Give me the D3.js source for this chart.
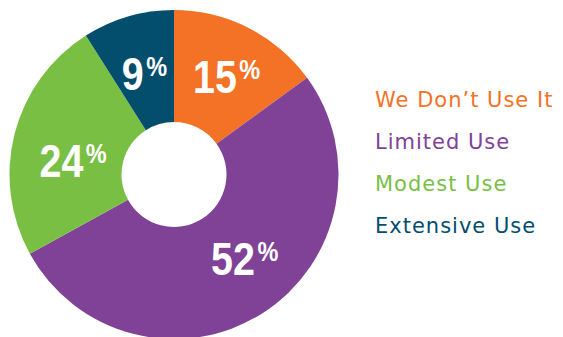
<!DOCTYPE html>
<html>
<head>
<meta charset="utf-8">
<script src="https://cdn.jsdelivr.net/npm/d3@7"></script>
<style>
  html, body { margin: 0; padding: 0; background: #ffffff; }
  svg { display: block; }
</style>
</head>
<body>
<svg id="chart" width="563" height="337"></svg>
<script>
// Survey responses: how much each group uses the tool
const categories = ["We Don\u2019t Use It", "Limited Use", "Modest Use", "Extensive Use"];
const shares = [15, 52, 24, 9];
const colors = ["#F37225", "#7F4297", "#79BF44", "#034D6D"];

const svg = d3.select("#chart");
const cx = 174, cy = 174.5;
const outerR = 164.5, innerR = 52.5;

const data = categories.map((c, i) => ({ name: c, value: shares[i], color: colors[i] }));

const pie = d3.pie().value(d => d.value).sort(null);
const arcs = pie(data);
const arc = d3.arc().innerRadius(innerR).outerRadius(outerR);

const g = svg.append("g").attr("transform", `translate(${cx},${cy})`);

g.selectAll("path.slice")
  .data(arcs)
  .join("path")
  .attr("class", "slice")
  .attr("d", arc)
  .attr("fill", d => d.data.color);

// Percentage labels sit near each slice's centroid, nudged in angle/radius for balance
const labelRadius = 108;
const labelNudge = { "We Don\u2019t Use It": [1, 4], "Limited Use": [-8, 1], "Modest Use": [-6, -6], "Extensive Use": [0, -2] };
const labels = g.selectAll("text.pct")
  .data(arcs)
  .join("text")
  .attr("class", "pct")
  .attr("text-anchor", "middle")
  .attr("fill", "#ffffff")
  .attr("font-family", "'Liberation Sans', Arial, sans-serif")
  .attr("font-weight", "bold")
  .attr("transform", d => {
    const [da, dr] = labelNudge[d.data.name];
    const a = (d.startAngle + d.endAngle) / 2 + da * Math.PI / 180;
    const r = labelRadius + dr;
    return `translate(${r * Math.sin(a)},${-r * Math.cos(a) + 17}) scale(0.84,1)`;
  });

labels.append("tspan")
  .attr("font-size", 47)
  .text(d => d.data.value);
labels.append("tspan")
  .attr("font-size", 28)
  .attr("dx", 3)
  .attr("dy", -14)
  .text("%");

// Legend: coloured category names
const legend = svg.append("g").attr("transform", "translate(375,107)");
legend.selectAll("text")
  .data(data)
  .join("text")
  .attr("x", 0)
  .attr("y", (d, i) => i * 42)
  .attr("fill", d => d.color)
  .attr("font-family", "'DejaVu Sans', sans-serif")
  .attr("font-size", 21)
  .attr("letter-spacing", 1)
  .text(d => d.name);
</script>
</body>
</html>
